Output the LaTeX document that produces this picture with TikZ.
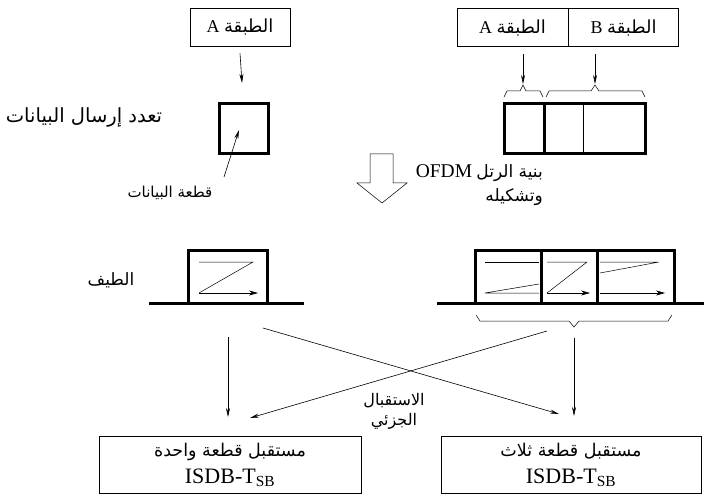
\documentclass[tikz,border=0pt]{standalone}
\usepackage{fontspec}
\setmainfont{Liberation Serif}
\newfontfamily\arabicfont[Script=Arabic]{DejaVu Sans}
\TeXXeTstate=1
\usetikzlibrary{arrows.meta}
\newcommand{\arb}[1]{{\arabicfont #1}}
\tikzset{
  layerbox/.style={draw,line width=0.6pt,minimum height=38pt,inner sep=0pt,
    font=\fontsize{18}{20}\selectfont},
  rxbox/.style={draw,line width=0.6pt,minimum height=57pt,inner sep=0pt,
    align=center,font=\fontsize{22}{27}\selectfont},
  label/.style={inner sep=0pt,font=\fontsize{17}{24}\selectfont},
  heavy/.style={line width=3pt},
  flow/.style={-{Stealth[length=9pt,width=4pt]},line width=0.6pt},
  zig/.style={line width=0.5pt},
  zigend/.style={-{Stealth[length=9pt,width=5pt]},line width=0.5pt}
}
\begin{document}
\begin{tikzpicture}[x=1pt,y=-1pt]
\useasboundingbox (0,0) rectangle (704,497);
% layers
\node[layerbox,minimum width=100pt] (layA) at (240,27) {\beginR\arb{الطبقة} A\endR};
\node[layerbox,minimum width=111pt] (layA2) at (512.5,27.5) {\beginR\arb{الطبقة} A\endR};
\node[layerbox,minimum width=110pt,anchor=west] (layB2) at (layA2.east) {\beginR\arb{الطبقة} B\endR};
% data multiplexing
\draw[heavy] (219.5,103.5) rectangle (268.5,153.5);
\coordinate (blockA) at (242,83);
\draw[flow] ([yshift=-7pt]layA.south) -- (blockA);
\node[label,font=\fontsize{19.5}{24}\selectfont] (mux) at (84,117) {\beginR\arb{تعدد إرسال البيانات}\endR};
\node[label,font=\fontsize{15}{19}\selectfont] (seg) at (170,193) {\beginR\arb{قطعة البيانات}\endR};
\coordinate (segin) at (239,130);
\draw[flow] (224,177) -- (segin);
\draw[heavy] (504.5,103.5) rectangle (645.5,153.5);
\draw[heavy] (544,103.5) -- (544,153.5);
\draw[line width=0.8pt] (583,103.5) -- (583,153.5);
% braces
\draw[line width=0.5pt] (504,97) -- (507,91) -- (520,91) -- (523,85) -- (526,91) -- (540,91) -- (543,97);
\draw[line width=0.5pt] (546,97) -- (549,91) -- (591,91) -- (595,85) -- (599,91) -- (642,91) -- (645,97);
\coordinate (braceA) at (523,84);
\coordinate (braceB) at (595,84);
\draw[flow] ([yshift=-7pt]layA2.south -| braceA) -- (braceA);
\draw[flow] ([yshift=-7pt]layB2.south -| braceB) -- (braceB);
% OFDM
\draw[line width=0.5pt] (370,154) -- (393,154) -- (393,183) -- (407,183) -- (382,203)
  -- (357,183) -- (370,183) -- cycle;
\node[label,align=right,anchor=east] (ofdm) at (543,185)
  {\beginR\arb{بنية الرتل} \beginL\fontsize{19.5}{19}\selectfont OFDM\endL\endR\\
   \beginR\arb{وتشكيله}\endR};
% spectrum
\node[label] (spec) at (111,280) {\beginR\arb{الطيف}\endR};
\draw[heavy] (149,303) -- (304,303);
\draw[heavy] (188,303) -- (188,250) -- (267,250) -- (267,303);
\draw[zig] (199,262) -- (253,262) -- (199,293);
\draw[zigend] (199,293) -- (258,293);
\draw[heavy] (437,303) -- (704,303);
\draw[heavy] (475,303) -- (475,250) -- (674,250) -- (674,303);
\draw[heavy] (541,250) -- (541,303);
\draw[heavy] (597,250) -- (597,303);
\draw[zig] (485,262) -- (539,262);
\draw[zig] (539,284) -- (485,293) -- (539,293);
\draw[zig] (547,262) -- (587,262) -- (547,293);
\draw[zigend] (547,293) -- (590,293);
\draw[zig] (600,262) -- (659,262) -- (600,273);
\draw[zigend] (600,293) -- (665,293);
\draw[line width=0.5pt] (476,315) -- (480,321) -- (569,321) -- (574,327) -- (579,321) -- (668,321) -- (672,315);
% receivers
\node[rxbox,minimum width=262pt] (rxone) at (230,464.5)
  {\beginR\arb{\fontsize{17.5}{18}\selectfont مستقبل قطعة واحدة}\endR\\ISDB-T\textsubscript{SB}};
\node[rxbox,minimum width=260pt] (rxthree) at (571,464.5)
  {\beginR\arb{\fontsize{17.5}{18}\selectfont مستقبل قطعة ثلاث}\endR\\ISDB-T\textsubscript{SB}};
\coordinate (oneS) at (228,337);
\coordinate (threeS) at (574,338);
\coordinate (oneIn) at (228,417);
\coordinate (threeIn) at (574,416);
\draw[flow] (oneS) -- (oneIn);
\draw[flow] (threeS) -- (threeIn);
\draw[flow] (263,328) -- (559,414);
\draw[flow] (547,331) -- (250,418);
\node[label,align=center,font=\fontsize{16}{20}\selectfont] (part) at (394,411)
  {\beginR\arb{الاستقبال}\endR\\\beginR\arb{الجزئي}\endR};
\end{tikzpicture}
\end{document}
